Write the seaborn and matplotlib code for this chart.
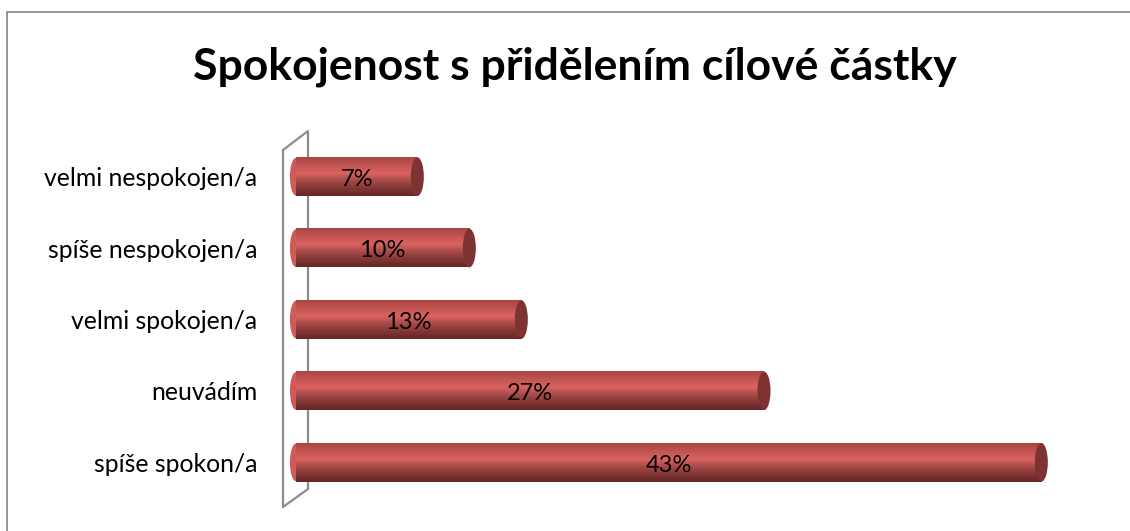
import numpy as np
import matplotlib
matplotlib.use("Agg")
import matplotlib.pyplot as plt
from matplotlib.patches import Ellipse, Rectangle
from matplotlib.lines import Line2D
import seaborn as sns
import pandas as pd

# data
categories = ["velmi nespokojen/a", "spíše nespokojen/a", "velmi spokojen/a", "neuvádím", "spíše spokon/a"]
values = [7, 10, 13, 27, 43]
labels = ["7%", "10%", "13%", "27%", "43%"]

sns.set_theme(style="white")
plt.rcParams["font.family"] = ["Lato", "DejaVu Sans"]

df = pd.DataFrame({"kategorie": categories, "podil": values})

W, H = 1130, 531
fig = plt.figure(figsize=(W / 100, H / 100), dpi=100)
fig.patch.set_facecolor("white")

# outer frame of the chart (cut off on right and bottom)
fig.add_artist(Rectangle((7 / W, -0.1), 1.2, 1 - 12 / H + 0.1, transform=fig.transFigure,
                         fill=False, edgecolor="#8c8c8c", lw=1.3))

ax = fig.add_axes([296 / W, 1 - 498 / H, 780 / W, 357 / H])
ax.patch.set_alpha(0)
sns.barplot(data=df, y="kategorie", x="podil", order=categories, color="#C0504D",
            width=0.54, orient="h", ax=ax, zorder=2)
ax.set_xlabel("")
ax.set_ylabel("")
ax.set_xticks([])
for s in ax.spines.values():
    s.set_visible(False)
ax.tick_params(axis="y", length=0, pad=28, labelsize=17.8, labelcolor="#000000")

# cylinder shading (top -> middle highlight -> dark bottom)
top_c = np.array([0.66, 0.27, 0.26])
mid_c = np.array([0.86, 0.39, 0.38])
bot_c = np.array([0.40, 0.15, 0.14])
rgb = np.zeros((256, 1, 3))
for i, t in enumerate(np.linspace(0, 1, 256)):
    if t < 0.42:
        f = t / 0.42
        rgb[i, 0] = top_c * (1 - f) + mid_c * f
    else:
        f = (t - 0.42) / 0.58
        rgb[i, 0] = mid_c * (1 - f) + bot_c * f ** 1.5

for p, lab in zip(ax.patches, labels):
    x0, y0 = p.get_x(), p.get_y()
    w, h = p.get_width(), p.get_height()
    p.set_visible(False)
    ax.imshow(rgb, extent=[x0, x0 + w, y0 + h, y0], origin="upper", aspect="auto",
              zorder=2, interpolation="bilinear")
    # rounded left end
    ax.add_patch(Ellipse((x0, y0 + h / 2), 0.7, h * 0.98, facecolor="#CF5A57",
                         edgecolor="none", zorder=1.9, clip_on=False))
    # darker end cap
    ax.add_patch(Ellipse((x0 + w, y0 + h / 2), 0.75, h, facecolor="#7D3331",
                         edgecolor="none", zorder=3))
    ax.text(x0 + w / 2, y0 + h / 2 + 0.04, lab, ha="center", va="center",
            fontsize=17, color="#000000", zorder=4)

ax.set_ylim(4.5, -0.5)
ax.set_xlim(0, 45)

# 3D side wall, behind the bars
wall = [(283, 150), (308, 131), (308, 489), (283, 507), (283, 150)]
ax.add_line(Line2D([x / W for x, y in wall], [1 - y / H for x, y in wall],
                   transform=fig.transFigure, color="#8c8c8c", lw=1.6,
                   clip_on=False, zorder=1))

fig.text(575 / W, 1 - 67 / H, "Spokojenost s přidělením cílové částky",
         ha="center", va="center", fontsize=32, fontweight="bold", color="#000000")

fig.savefig("out.png", dpi=100, facecolor="white")
